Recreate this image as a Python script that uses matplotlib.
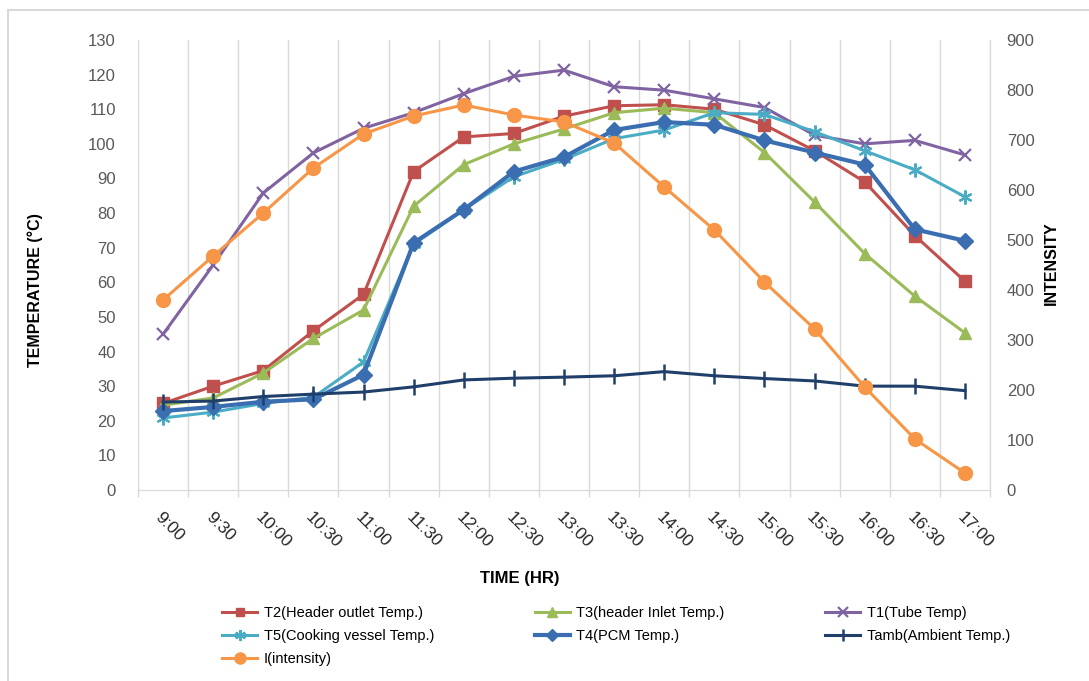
import matplotlib
matplotlib.use("Agg")
import matplotlib.pyplot as plt
from matplotlib.patches import Rectangle
import numpy as np

plt.rcParams['font.family'] = ['Liberation Sans', 'DejaVu Sans']

times = ["9:00", "9:30", "10:00", "10:30", "11:00", "11:30", "12:00", "12:30",
         "13:00", "13:30", "14:00", "14:30", "15:00", "15:30", "16:00", "16:30", "17:00"]

t2 = [25, 30, 34.5, 46, 56.5, 92, 102, 103, 108, 111, 111.3, 110, 105.5, 98, 89, 73.5, 60.3]
t3 = [24.5, 26.6, 33.8, 43.8, 52, 82, 94, 100, 104.3, 109, 110.3, 109, 97.5, 83.2, 68.3, 56, 45.4]
t1 = [45, 65, 85.8, 97.4, 104.5, 109, 114.5, 119.5, 121.3, 116.5, 115.5, 113, 110.5, 102.5, 100, 101, 96.8]
t5 = [20.8, 22.5, 25, 26.8, 37, 71, 81, 90.5, 95.5, 101.5, 104, 109, 108.5, 103.5, 98, 92.5, 84.7]
t4 = [22.8, 24, 25.5, 26.2, 33.3, 71.4, 81, 92, 96.2, 104, 106.3, 105.5, 101, 97.5, 94, 75.3, 72]
tamb = [25.4, 25.7, 27, 27.7, 28.3, 29.8, 31.8, 32.3, 32.6, 33, 34.2, 33, 32.2, 31.5, 30, 30, 28.7]
intensity = [380, 468, 554, 644, 712, 748, 770, 750, 736, 694, 606, 520, 416, 322, 206, 102, 34]

x = np.arange(len(times))

fig = plt.figure(figsize=(10.89, 6.81), dpi=100)
fig.patches.append(Rectangle((8 / 1089, -0.1), 1.2, 1 - 10 / 681 + 0.1,
                             transform=fig.transFigure, fill=False,
                             edgecolor='#d9d9d9', lw=1.5, zorder=0))

ax = fig.add_axes([138 / 1089, 1 - 490 / 681, (990 - 138) / 1089, 450 / 681])
ax2 = ax.twinx()

grid_c = '#d9d9d9'
ax.set_xlim(-0.5, len(times) - 0.5)
ax.set_ylim(0, 130)
ax.set_yticks(np.arange(0, 131, 10))
ax2.set_ylim(0, 900)
ax2.set_yticks(np.arange(0, 901, 100))

ax.set_xticks(x)
ax.set_xticks(np.arange(-0.5, len(times), 1), minor=True)
ax.set_xticklabels(times, rotation=-45, ha='left', va='top', rotation_mode='anchor',
                   fontsize=12.5, color='#262626')
ax.tick_params(axis='x', which='major', length=0, pad=14)
ax.tick_params(axis='x', which='minor', length=5, color=grid_c, width=1)
ax.grid(True, which='minor', axis='x', color=grid_c, lw=1)
ax.tick_params(axis='y', length=0, labelsize=12, labelcolor='#595959', pad=16)
ax2.tick_params(axis='y', length=0, labelsize=12, labelcolor='#595959', pad=12)

for a in (ax, ax2):
    for s in ('top', 'left'):
        a.spines[s].set_visible(False)
    a.spines['bottom'].set_color(grid_c)
    a.spines['right'].set_color(grid_c)

lw = 2.2
h_t2, = ax.plot(x, t2, color='#C0504D', lw=lw, marker='s', ms=8, label='T2(Header outlet Temp.)')
h_t3, = ax.plot(x, t3, color='#9BBB59', lw=lw, marker='^', ms=9, label='T3(header Inlet Temp.)')
h_t1, = ax.plot(x, t1, color='#8064A2', lw=lw, marker='x', ms=9, mew=1.6, label='T1(Tube Temp)')
h_t5, = ax.plot(x, t5, color='#4BACC6', lw=lw, marker=(6, 2, 0), ms=10, mew=1.6,
                label='T5(Cooking vessel Temp.)')
h_t4, = ax.plot(x, t4, color='#3B6EB0', lw=3.0, marker='D', ms=8, label='T4(PCM Temp.)')
h_ta, = ax.plot(x, tamb, color='#1F3F6A', lw=lw, marker='|', ms=11, mew=1.8,
                label='Tamb(Ambient Temp.)')
h_i, = ax2.plot(x, intensity, color='#F79646', lw=lw, marker='o', ms=10, label='I(intensity)')

ax.set_ylabel('TEMPERATURE (°C)', fontsize=11.5, fontweight='bold')
ax.yaxis.set_label_coords(-0.112, 0.444)
ax2.set_ylabel('INTENSITY', fontsize=11.5, fontweight='bold')
ax2.yaxis.set_label_coords(1.063, 0.505)
fig.text(520 / 1089, 1 - 578 / 681, 'TIME (HR)', fontsize=12, fontweight='bold',
         ha='center', va='center')

handles = [h_t2, h_t5, h_i, h_t3, h_t4, h_t1, h_ta]
fig.legend(handles, [h.get_label() for h in handles], ncol=3, frameon=False,
           loc='upper left', bbox_to_anchor=(222 / 1089, 1 - 606 / 681),
           fontsize=10.5, handlelength=2.4, handletextpad=0.45, columnspacing=6.9,
           labelspacing=0.62, borderaxespad=0, borderpad=0, markerscale=0.8)

fig.savefig('out.png', dpi=100)
